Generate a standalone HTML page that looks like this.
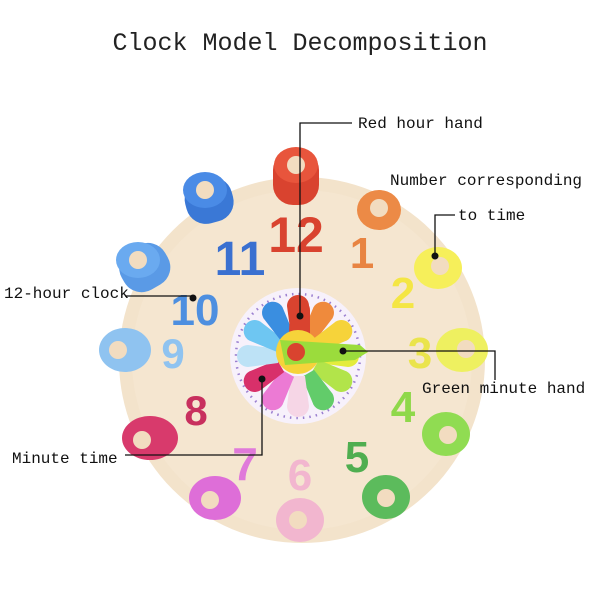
<!DOCTYPE html>
<html><head><style>
html,body{margin:0;padding:0;background:#fff;}
svg{display:block;}
</style></head><body>
<svg width="600" height="600" viewBox="0 0 600 600" xmlns="http://www.w3.org/2000/svg">
<rect width="600" height="600" fill="#fff"/>
<text x="300" y="50" text-anchor="middle" font-family="Liberation Mono, monospace" font-size="25" fill="#222">Clock Model Decomposition</text>
<!-- board -->
<circle cx="302" cy="360" r="183" fill="#f3e3cb"/>
<circle cx="302" cy="360" r="170" fill="#f6e8d3" opacity="0.6"/>
<!-- pegs (stacked) -->
<g font-family="Liberation Sans, sans-serif" font-weight="bold" text-anchor="middle">
<!-- 12 -->
<rect x="273" y="150" width="46" height="55" rx="20" fill="#d9432f"/>
<ellipse cx="296" cy="165" rx="22" ry="18" fill="#e8553c"/><circle cx="296" cy="165" r="9" fill="#f2dcc0"/>
<!-- 11 -->
<rect x="185" y="178" width="48" height="45" rx="20" fill="#3a78d6" transform="rotate(-15 209 200)"/>
<ellipse cx="205" cy="190" rx="22" ry="18" fill="#4a8be6"/><circle cx="205" cy="190" r="9" fill="#f2dcc0"/>
<!-- 10 -->
<rect x="120" y="245" width="50" height="45" rx="20" fill="#5a9ae6" transform="rotate(-30 145 268)"/>
<ellipse cx="138" cy="260" rx="22" ry="18" fill="#6aaaf0"/><circle cx="138" cy="260" r="9" fill="#f2dcc0"/>
<!-- 9 -->
<ellipse cx="125" cy="350" rx="26" ry="22" fill="#8fc3f0"/><circle cx="118" cy="350" r="9" fill="#f2dcc0"/>
<!-- 8 -->
<ellipse cx="150" cy="438" rx="28" ry="22" fill="#d83a6c"/><circle cx="142" cy="440" r="9" fill="#f2dcc0"/>
<!-- 7 -->
<ellipse cx="215" cy="498" rx="26" ry="22" fill="#de6ed8"/><circle cx="210" cy="500" r="9" fill="#f2dcc0"/>
<!-- 6 -->
<ellipse cx="300" cy="520" rx="24" ry="22" fill="#f2b6cf"/><circle cx="298" cy="520" r="9" fill="#f2dcc0"/>
<!-- 5 -->
<ellipse cx="386" cy="497" rx="24" ry="22" fill="#5cbb5c"/><circle cx="386" cy="498" r="9" fill="#f2dcc0"/>
<!-- 4 -->
<ellipse cx="446" cy="434" rx="24" ry="22" fill="#90dc52"/><circle cx="448" cy="435" r="9" fill="#f2dcc0"/>
<!-- 3 peg -->
<ellipse cx="462" cy="350" rx="26" ry="22" fill="#eef060"/><circle cx="466" cy="349" r="9" fill="#f2dcc0"/>
<!-- 2 peg -->
<ellipse cx="438" cy="268" rx="24" ry="21" fill="#f6ef5a"/><circle cx="440" cy="266" r="9" fill="#f2dcc0"/>
<!-- 1 peg -->
<ellipse cx="379" cy="210" rx="22" ry="20" fill="#ec8a46"/><circle cx="379" cy="208" r="9" fill="#f2dcc0"/>

<!-- numerals -->
<text x="296" y="252" font-size="50" fill="#d9432f">12</text>
<text x="240" y="275" font-size="48" fill="#3a70d0">11</text>
<text x="195" y="325" font-size="44" fill="#4d8fe0">10</text>
<text x="173" y="368" font-size="42" fill="#8fc3f0">9</text>
<text x="196" y="425" font-size="42" fill="#c8305e">8</text>
<text x="245" y="480" font-size="46" fill="#e07ada">7</text>
<text x="300" y="490" font-size="44" fill="#f2b6cf">6</text>
<text x="357" y="472" font-size="44" fill="#4fae50">5</text>
<text x="403" y="422" font-size="44" fill="#8fd84a">4</text>
<text x="420" y="368" font-size="44" fill="#eae44c">3</text>
<text x="403" y="308" font-size="44" fill="#f4e644">2</text>
<text x="362" y="268" font-size="44" fill="#e88442">1</text>
</g>

<!-- dial -->
<circle cx="298" cy="356" r="68" fill="#f7f1fb"/>
<circle cx="298" cy="356" r="62" fill="none" stroke="#9a7fd0" stroke-width="2.5" stroke-dasharray="1.5 5"/>
<g transform="translate(298 356)">
<g id="pet">
<path d="M-7,-20 L-11,-50 A11,11 0 0 1 11,-50 L7,-20 Z" fill="#d9432f"/>
</g>
<path d="M-7,-20 L-11,-50 A11,11 0 0 1 11,-50 L7,-20 Z" fill="#ef8a3c" transform="rotate(30)"/>
<path d="M-7,-20 L-11,-50 A11,11 0 0 1 11,-50 L7,-20 Z" fill="#f6d33a" transform="rotate(60)"/>
<path d="M-7,-20 L-11,-50 A11,11 0 0 1 11,-50 L7,-20 Z" fill="#e4ec3c" transform="rotate(90)"/>
<path d="M-7,-20 L-11,-50 A11,11 0 0 1 11,-50 L7,-20 Z" fill="#b2e44a" transform="rotate(120)"/>
<path d="M-7,-20 L-11,-50 A11,11 0 0 1 11,-50 L7,-20 Z" fill="#62cc6a" transform="rotate(150)"/>
<path d="M-7,-20 L-11,-50 A11,11 0 0 1 11,-50 L7,-20 Z" fill="#f6d6e6" transform="rotate(180)"/>
<path d="M-7,-20 L-11,-50 A11,11 0 0 1 11,-50 L7,-20 Z" fill="#ec7ad4" transform="rotate(210)"/>
<path d="M-7,-20 L-11,-50 A11,11 0 0 1 11,-50 L7,-20 Z" fill="#d8306a" transform="rotate(240)"/>
<path d="M-7,-20 L-11,-50 A11,11 0 0 1 11,-50 L7,-20 Z" fill="#bde2f6" transform="rotate(270)"/>
<path d="M-7,-20 L-11,-50 A11,11 0 0 1 11,-50 L7,-20 Z" fill="#6ec6f2" transform="rotate(300)"/>
<path d="M-7,-20 L-11,-50 A11,11 0 0 1 11,-50 L7,-20 Z" fill="#3a8ee0" transform="rotate(330)"/>
</g>
<!-- hands -->
<path d="M288,355 L290,310 A10,10 0 0 1 310,310 L310,355 Z" fill="#d9432f"/>
<circle cx="298" cy="352" r="22" fill="#f6d33a"/>
<path d="M280,340 L360,345 L368,352 L355,360 L285,365 Z" fill="#9bdc3c"/>
<circle cx="296" cy="352" r="9" fill="#d9432f"/>

<!-- callouts -->
<g stroke="#111" stroke-width="1.3" fill="none">
<polyline points="352,123 300,123 300,316"/>
<polyline points="455,215 435,215 435,256"/>
<line x1="125" y1="296" x2="193" y2="296"/>
<polyline points="343,351 495,351 495,380"/>
<polyline points="125,455 262,455 262,379"/>
</g>
<g fill="#111">
<circle cx="300" cy="316" r="3.5"/>
<circle cx="435" cy="256" r="3.5"/>
<circle cx="193" cy="298" r="3.5"/>
<circle cx="343" cy="351" r="3.5"/>
<circle cx="262" cy="379" r="3.5"/>
</g>
<g font-family="Liberation Mono, monospace" font-size="16" fill="#111">
<text x="358" y="128">Red hour hand</text>
<text x="390" y="185">Number corresponding</text>
<text x="458" y="220">to time</text>
<text x="4" y="298">12-hour clock</text>
<text x="422" y="393">Green minute hand</text>
<text x="12" y="463">Minute time</text>
</g>
</svg>
</body></html>
